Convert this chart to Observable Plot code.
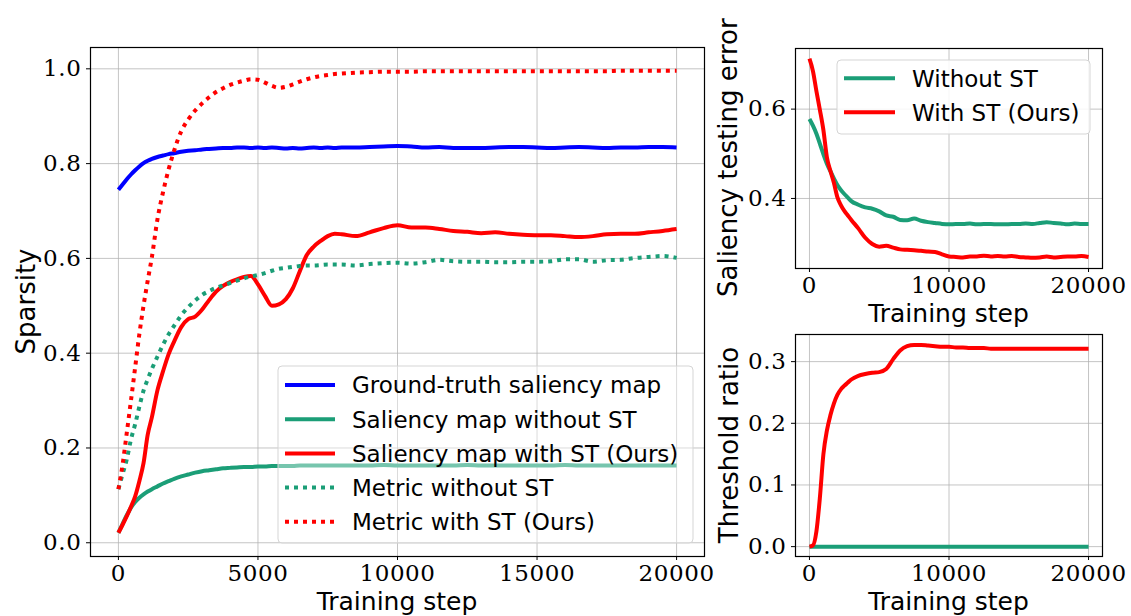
<!DOCTYPE html>
<html><head><meta charset="utf-8">
<script src="https://cdn.jsdelivr.net/npm/d3@7"></script>
<script src="https://cdn.jsdelivr.net/npm/@observablehq/plot@0.6"></script>
<style>
html,body{margin:0;padding:0;background:#fff;}
#wrap{position:relative;width:1131px;height:616px;overflow:hidden;background:#fff;}
#wrap svg{position:absolute;}
#wrap svg.tk text{font-family:'DejaVu Serif',serif !important;letter-spacing:0.6px;font-variant-numeric:normal !important;}
</style></head><body><div id="wrap"></div>
<script>
// ---------- data ----------
const mainSteps = [0,150,300,450,600,750,900,1050,1200,1400,1600,1800,2000,
  2250,2500,2750,3000,3250,3500,3750,4000,4250,4500,4750,5000,5250,5500,5750,6000,6250,6500,6750,7000,7250,7500,7750,8000,
  8500,9000,9500,10000,10500,11000,11500,12000,12500,13000,13500,14000,14500,15000,15500,16000,16500,17000,17500,18000,18500,19000,19500,20000];
const gtSaliency = [0.745,0.756,0.767,0.777,0.786,0.794,0.801,0.806,0.810,0.814,0.817,0.820,0.822,
  0.825,0.827,0.828,0.830,0.831,0.832,0.833,0.833,0.834,0.834,0.833,0.834,0.833,0.834,0.833,0.832,0.833,0.832,0.833,0.834,0.833,0.834,0.833,0.834,
  0.834,0.835,0.836,0.837,0.836,0.834,0.835,0.833,0.833,0.833,0.834,0.835,0.835,0.834,0.833,0.834,0.835,0.834,0.833,0.834,0.834,0.835,0.835,0.834];
const salWithoutST = [0.021,0.040,0.058,0.074,0.086,0.095,0.102,0.108,0.113,0.119,0.125,0.130,0.135,
  0.140,0.144,0.148,0.151,0.153,0.155,0.157,0.158,0.159,0.160,0.160,0.161,0.161,0.162,0.162,0.162,0.162,0.163,0.163,0.163,0.163,0.163,0.163,0.163,
  0.163,0.163,0.164,0.163,0.163,0.163,0.163,0.163,0.164,0.163,0.163,0.163,0.163,0.163,0.163,0.164,0.163,0.163,0.163,0.163,0.163,0.163,0.163,0.163];
const salWithST = [0.021,0.038,0.056,0.076,0.098,0.130,0.168,0.228,0.265,0.322,0.362,0.398,0.425,
  0.455,0.472,0.477,0.492,0.512,0.530,0.542,0.550,0.556,0.561,0.563,0.545,0.521,0.500,0.503,0.514,0.537,0.573,0.607,0.625,0.637,0.647,0.652,0.651,
  0.647,0.655,0.664,0.670,0.665,0.665,0.662,0.658,0.656,0.653,0.655,0.652,0.650,0.649,0.649,0.647,0.645,0.647,0.651,0.652,0.652,0.655,0.658,0.662];
const metricWithoutST = [0.113,0.145,0.176,0.218,0.250,0.287,0.321,0.345,0.367,0.393,0.418,0.440,0.458,
  0.480,0.497,0.511,0.523,0.531,0.538,0.543,0.548,0.553,0.558,0.562,0.565,0.569,0.574,0.578,0.580,0.582,0.584,0.585,0.585,0.586,0.587,0.587,0.587,
  0.585,0.588,0.590,0.591,0.589,0.592,0.597,0.594,0.593,0.593,0.592,0.592,0.593,0.593,0.594,0.598,0.598,0.593,0.596,0.597,0.601,0.603,0.605,0.601];
const metricWithST = [0.113,0.165,0.232,0.300,0.370,0.440,0.500,0.553,0.603,0.683,0.740,0.788,0.828,
  0.868,0.893,0.912,0.927,0.940,0.951,0.959,0.966,0.971,0.975,0.978,0.977,0.971,0.964,0.960,0.962,0.967,0.973,0.978,0.982,0.985,0.987,0.989,0.990,
  0.992,0.993,0.994,0.994,0.994,0.995,0.995,0.995,0.995,0.995,0.995,0.995,0.995,0.995,0.995,0.995,0.995,0.995,0.995,0.996,0.996,0.996,0.996,0.996];

const rightSteps = [0,250,500,750,1000,1250,1500,1750,2000,2250,2500,2750,3000,
  3500,4000,4500,5000,5500,6000,6500,7000,7500,8000,8500,9000,9500,10000,10500,11000,11500,12000,12500,13000,13500,14000,14500,15000,
  15500,16000,16500,17000,17500,18000,18500,19000,19500,20000];
const errWithoutST = [0.578,0.563,0.545,0.522,0.499,0.478,0.461,0.445,0.430,0.419,0.410,0.402,0.394,
  0.386,0.380,0.377,0.371,0.362,0.359,0.352,0.351,0.355,0.350,0.347,0.345,0.343,0.342,0.343,0.343,0.344,0.342,0.343,0.343,0.342,0.342,0.343,0.343,
  0.344,0.343,0.345,0.347,0.345,0.344,0.342,0.344,0.343,0.343];
const errWithST = [0.713,0.685,0.640,0.598,0.553,0.492,0.462,0.435,0.403,0.385,0.372,0.362,0.352,
  0.333,0.312,0.298,0.292,0.294,0.290,0.286,0.285,0.284,0.283,0.281,0.280,0.275,0.270,0.269,0.268,0.270,0.270,0.272,0.270,0.271,0.270,0.271,0.269,
  0.268,0.267,0.268,0.270,0.268,0.269,0.270,0.270,0.271,0.269];
const thrWithST = [0.000,0.002,0.025,0.080,0.150,0.188,0.213,0.232,0.246,0.255,0.261,0.266,0.271,
  0.277,0.280,0.282,0.283,0.288,0.304,0.318,0.325,0.327,0.327,0.326,0.325,0.324,0.324,0.323,0.323,0.322,0.322,0.322,0.321,0.321,0.321,0.321,0.321,
  0.321,0.321,0.321,0.321,0.321,0.321,0.321,0.321,0.321,0.321];
const thrStepsWithoutST = [0, 20000];
const thrWithoutST = [0, 0];

const mainXTicks = [0,5000,10000,15000,20000];
const mainYTicks = [0,0.2,0.4,0.6,0.8,1.0];
const rightXTicks = [0,10000,20000];
const errYTicks = [0.4,0.6];
const thrYTicks = [0,0.1,0.2,0.3];

const mainLegend = ["Ground-truth saliency map","Saliency map without ST","Saliency map with ST (Ours)","Metric without ST","Metric with ST (Ours)"];
const errLegend = ["Without ST","With ST (Ours)"];

// ---------- styles ----------
const BLUE = "#0000ff", GREEN = "#1b9e77", RED = "#ff0000";
const LW = 4, DASH = "4,5";
const serif = "'DejaVu Serif',serif";
const sans = "'DejaVu Sans',sans-serif";
const TICK_FS = 23;
const rows = (s, v) => s.map((d, i) => ({step: d, v: v[i]}));
const svgStyle = {background: "transparent", color: "black", overflow: "visible"};
const gridOpts = {stroke: "#b0b0b0", strokeOpacity: 0.75, strokeWidth: 1};
const fmtX = d3.format("d"), fmtY = d3.format(".1f");
function ln(data, color, dashed) {
  return Plot.line(data, {x: "step", y: "v", stroke: color, strokeWidth: LW, curve: "monotone-x",
    strokeDasharray: dashed ? DASH : null, strokeLinecap: "butt", strokeLinejoin: "round"});
}
const axX = t => Plot.axisX(t, {tickFormat: fmtX, tickSize: 4, tickPadding: 4, fontSize: TICK_FS, fontFamily: serif, label: null});
const axY = t => Plot.axisY(t, {tickFormat: fmtY, tickSize: 4, tickPadding: 5, fontSize: TICK_FS, fontFamily: serif, label: null});
function serifTicks(svg) {
  svg.classList.add("tk");
  svg.querySelectorAll("text").forEach(el => {
    el.setAttribute("font-family", serif);
    el.setAttribute("font-size", TICK_FS);
  });
}

const wrap = document.getElementById("wrap");

// main chart
const main = Plot.plot({
  width: 720, height: 616, marginLeft: 90, marginRight: 16, marginTop: 47, marginBottom: 60,
  x: {domain: [-1000, 21000]}, y: {domain: [-0.029, 1.045]},
  style: svgStyle,
  marks: [
    Plot.gridX(mainXTicks, gridOpts),
    Plot.gridY(mainYTicks, gridOpts),
    ln(rows(mainSteps, gtSaliency), BLUE, false),
    ln(rows(mainSteps, salWithoutST), GREEN, false),
    ln(rows(mainSteps, salWithST), RED, false),
    ln(rows(mainSteps, metricWithoutST), GREEN, true),
    ln(rows(mainSteps, metricWithST), RED, true),
    Plot.frame({stroke: "black", strokeWidth: 1.2}),
    axX(mainXTicks),
    axY(mainYTicks)
  ]
});
serifTicks(main);
main.style.left = "0px"; main.style.top = "0px";
wrap.appendChild(main);

// top-right chart
const tr = Plot.plot({
  width: 411, height: 300, marginLeft: 75, marginRight: 29, marginTop: 48, marginBottom: 32,
  x: {domain: [-1000, 21000]}, y: {domain: [0.2432, 0.7357]},
  style: svgStyle,
  marks: [
    Plot.gridX(rightXTicks, gridOpts),
    Plot.gridY(errYTicks, gridOpts),
    ln(rows(rightSteps, errWithoutST), GREEN, false),
    ln(rows(rightSteps, errWithST), RED, false),
    Plot.frame({stroke: "black", strokeWidth: 1.2}),
    axX(rightXTicks),
    axY(errYTicks)
  ]
});
serifTicks(tr);
tr.style.left = "720px"; tr.style.top = "0px";
wrap.appendChild(tr);

// bottom-right chart
const br = Plot.plot({
  width: 411, height: 316, marginLeft: 75, marginRight: 29, marginTop: 34, marginBottom: 60,
  x: {domain: [-1000, 21000]}, y: {domain: [-0.016, 0.344]},
  style: svgStyle,
  marks: [
    Plot.gridX(rightXTicks, gridOpts),
    Plot.gridY(thrYTicks, gridOpts),
    ln(rows(thrStepsWithoutST, thrWithoutST), GREEN, false),
    ln(rows(rightSteps, thrWithST), RED, false),
    Plot.frame({stroke: "black", strokeWidth: 1.2}),
    axX(rightXTicks),
    axY(thrYTicks)
  ]
});
serifTicks(br);
br.style.left = "720px"; br.style.top = "300px";
wrap.appendChild(br);

// overlay: axis labels and legends
const ov = d3.select(wrap).append("svg")
  .attr("width", 1131).attr("height", 616)
  .style("left", "0px").style("top", "0px").style("pointer-events", "none")
  .attr("font-family", sans).attr("fill", "black");

function vlabel(x, y, t) {
  ov.append("text").attr("transform", `translate(${x},${y}) rotate(-90)`)
    .attr("text-anchor", "middle").attr("font-size", 26).text(t);
}
function hlabel(x, y, t) {
  ov.append("text").attr("x", x).attr("y", y).attr("text-anchor", "middle").attr("font-size", 25).text(t);
}
vlabel(35, 301.5, "Sparsity");
vlabel(737, 157.7, "Saliency testing error");
vlabel(738, 445, "Threshold ratio");
hlabel(397, 610, "Training step");
hlabel(948.5, 322, "Training step");
hlabel(948.5, 610, "Training step");

function legend(box, items, x0, x1, tx, y0, dy, fillOp) {
  ov.append("rect").attr("x", box[0]).attr("y", box[1]).attr("width", box[2]).attr("height", box[3])
    .attr("rx", 4).attr("fill", "white").attr("fill-opacity", fillOp)
    .attr("stroke", "#d5d5d5").attr("stroke-width", 1);
  items.forEach((it, i) => {
    const y = y0 + i * dy;
    ov.append("line").attr("x1", x0).attr("x2", x1).attr("y1", y).attr("y2", y)
      .attr("stroke", it.color).attr("stroke-width", LW)
      .attr("stroke-dasharray", it.dashed ? DASH : null);
    ov.append("text").attr("x", tx).attr("y", y + 8.3).attr("font-size", 23).text(it.label);
  });
}
legend([278, 366, 415, 177], [
  {label: mainLegend[0], color: BLUE, dashed: false},
  {label: mainLegend[1], color: GREEN, dashed: false},
  {label: mainLegend[2], color: RED, dashed: false},
  {label: mainLegend[3], color: GREEN, dashed: true},
  {label: mainLegend[4], color: RED, dashed: true}
], 285, 335, 352, 385, 34.2, 0.4);
legend([837, 60, 253, 74], [
  {label: errLegend[0], color: GREEN, dashed: false},
  {label: errLegend[1], color: RED, dashed: false}
], 844, 895, 912, 78.3, 34, 0.85);
</script>
</body></html>
